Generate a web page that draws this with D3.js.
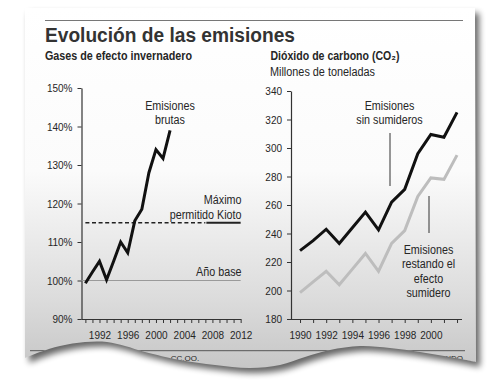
<!DOCTYPE html>
<html><head><meta charset="utf-8">
<script src="https://cdn.jsdelivr.net/npm/d3@7"></script>
<style>
body{margin:0;background:#fff}
svg text{font-family:"Liberation Sans",Arial,sans-serif;fill:#262626}
</style>
</head><body>
<svg id="c" width="500" height="385"></svg>
<script>
// ---------- data ----------
const grossYears = [1990,1991,1992,1993,1994,1995,1996,1997,1998,1999,2000,2001,2002];
const grossEmissions = [99.3,102.2,105,100.2,105,110,107.2,115.5,118.5,128,134,131.7,139];
const kyotoLimit = 115;
const baseYearLevel = 100;
const kyotoDashedYears = [1990,2007];
const kyotoSolidYears = [2007,2012];
const baseLineYears = [1989.45,2012];

const co2Years = [1990,1991,1992,1993,1994,1995,1996,1997,1998,1999,2000,2001,2002];
const co2WithoutSinks = [228,235,243,233,244,255,242.5,262,271,296,309.5,307.5,325];
const co2WithSinks = [198.5,206,213.5,204,215,226,213.5,233,242,266,279,278,295];

const leftYTicks = [90,100,110,120,130,140,150];
const leftXTicks = [1990,1991,1992,1993,1994,1995,1996,1997,1998,1999,2000,2001,2002,2003,2004,2005,2006,2007,2008,2009,2010,2011,2012];
const leftXLabels = [1992,1996,2000,2004,2008,2012];
const rightYTicks = [180,200,220,240,260,280,300,320,340];
const rightXTicks = [1990,1991,1992,1993,1994,1995,1996,1997,1998,1999,2000,2001,2002];
const rightXLabels = [1990,1992,1994,1996,1998,2000];

const title = "Evolución de las emisiones";

// condense text horizontally (Helvetica Condensed look)
function condense(sel, f){
  sel.each(function(){
    const w = this.getComputedTextLength();
    if (w > 0) d3.select(this).attr("textLength", w*f).attr("lengthAdjust","spacingAndGlyphs");
  });
}

// ---------- svg / paper ----------
const svg = d3.select("#c");
const defs = svg.append("defs");

const grad = defs.append("linearGradient").attr("id","paperGrad")
  .attr("gradientUnits","userSpaceOnUse").attr("x1",0).attr("y1",8).attr("x2",0).attr("y2",370);
[[0,"#ffffff"],[0.45,"#fbfbfb"],[0.62,"#ececec"],[0.8,"#dcdcdc"],[1,"#c6c6c6"]]
  .forEach(([o,c])=>grad.append("stop").attr("offset",o).attr("stop-color",c));

const shadow = defs.append("filter").attr("id","shadow").attr("x","-10%").attr("y","-10%").attr("width","130%").attr("height","130%");
shadow.append("feGaussianBlur").attr("stdDeviation",3);

const tear = [[476,362],[450,357],[420,352],[390,348],[360,346],[330,350],[305,357],[280,365],[250,368],[215,365],[180,360],[145,352],[125,346],[107,342],[85,342],[60,346],[40,352],[25,358]];
const tearPath = d3.line().curve(d3.curveCatmullRom)(tear);
const paperD = "M25,8L475,8L476,362" + tearPath.replace(/^M[^C]*?(?=C)/,"") + "Z";

svg.append("path").attr("d",paperD).attr("transform","translate(4,5)")
  .attr("fill","#000").attr("opacity",0.6).attr("filter","url(#shadow)");
svg.append("path").attr("d",paperD).attr("fill","url(#paperGrad)");

defs.append("clipPath").attr("id","paperClip").append("path").attr("d",paperD);
const page = svg.append("g").attr("clip-path","url(#paperClip)");

// header rule + title
page.append("line").attr("x1",45).attr("x2",463).attr("y1",20.5).attr("y2",20.5)
  .attr("stroke","#777").attr("stroke-width",1);
page.append("text").attr("x",45).attr("y",42).text(title)
  .style("font-weight","bold").style("font-size","20px").style("fill","#333")
  .attr("textLength",250).attr("lengthAdjust","spacingAndGlyphs");

page.append("text").attr("x",45).attr("y",60).text("Gases de efecto invernadero")
  .style("font-weight","bold").style("font-size","12.5px")
  .attr("textLength",147).attr("lengthAdjust","spacingAndGlyphs");
page.append("text").attr("x",270.5).attr("y",60).text("Dióxido de carbono (CO\u2082)")
  .style("font-weight","bold").style("font-size","12.5px")
  .attr("textLength",129).attr("lengthAdjust","spacingAndGlyphs");
page.append("text").attr("x",270).attr("y",75.5).text("Millones de toneladas").style("font-size","12.5px")
  .attr("textLength",105).attr("lengthAdjust","spacingAndGlyphs");

// bottom rule and credits (cut by tear)
page.append("line").attr("x1",30).attr("x2",465).attr("y1",350.7).attr("y2",350.7).attr("stroke","#555").attr("stroke-width",1);
page.append("text").attr("x",185).attr("y",361).text("CC.OO.").style("font-size","8px").attr("text-anchor","middle");
page.append("text").attr("x",463).attr("y",361).text("MUNDO").style("font-size","8px").attr("text-anchor","end");

// ---------- left chart ----------
const xL = d3.scaleLinear().domain([1989.45,2012.05]).range([81.5,241]);
const yL = d3.scaleLinear().domain([90,150]).range([319,88]);

const axStyle = g => {
  g.select(".domain").attr("stroke","#333").attr("stroke-width",1.2);
  g.selectAll(".tick line").attr("stroke","#333").attr("stroke-width",1);
  g.selectAll(".tick text").style("font-size","11.5px").style("fill","#262626")
    .style("font-family","'Liberation Sans',Arial,sans-serif").call(condense,0.87);
};

page.append("g").attr("transform","translate(0,319)")
  .call(d3.axisBottom(xL).tickValues(leftXTicks).tickSize(4).tickSizeOuter(0).tickPadding(8)
    .tickFormat(d=>leftXLabels.includes(d)?String(d):""))
  .call(axStyle)
  .call(g=>g.select(".domain").attr("d","M81.5,0.5H241"));
page.append("g").attr("transform","translate(81.5,0)")
  .call(d3.axisLeft(yL).tickValues(leftYTicks).tickSize(4).tickSizeOuter(0).tickPadding(5).tickFormat(d=>d+"%"))
  .call(axStyle);

// base year and Kyoto lines
page.append("line").attr("x1",xL(baseLineYears[0])).attr("x2",xL(baseLineYears[1]))
  .attr("y1",yL(baseYearLevel)).attr("y2",yL(baseYearLevel)).attr("stroke","#9a9a9a").attr("stroke-width",1);
page.append("line").attr("x1",xL(kyotoDashedYears[0])).attr("x2",xL(kyotoDashedYears[1]))
  .attr("y1",yL(kyotoLimit)).attr("y2",yL(kyotoLimit)).attr("stroke","#222").attr("stroke-width",1.6)
  .attr("stroke-dasharray","4,2.6");
page.append("line").attr("x1",xL(kyotoSolidYears[0])+1).attr("x2",xL(kyotoSolidYears[1]))
  .attr("y1",yL(kyotoLimit)).attr("y2",yL(kyotoLimit)).attr("stroke","#222").attr("stroke-width",1.8);

page.append("path").datum(grossYears.map((y,i)=>[y,grossEmissions[i]]))
  .attr("d",d3.line().x(d=>xL(d[0])).y(d=>yL(d[1])))
  .attr("fill","none").attr("stroke","#111").attr("stroke-width",3).attr("stroke-linejoin","miter");

const lbl = (x,y,t,anchor="middle") => page.append("text").attr("x",x).attr("y",y).text(t)
  .attr("text-anchor",anchor).style("font-size","12.5px").call(condense,0.86);
lbl(170,110,"Emisiones"); lbl(170,124,"brutas");
lbl(241.5,203.5,"Máximo","end"); lbl(241.5,218.5,"permitido Kioto","end");
lbl(241.5,275.5,"Año base","end");

// ---------- right chart ----------
const xR = d3.scaleLinear().domain([1989.31,2002.38]).range([291,462]);
const yR = d3.scaleLinear().domain([180,340]).range([319,91]);

page.append("g").attr("transform","translate(0,319)")
  .call(d3.axisBottom(xR).tickValues(rightXTicks).tickSize(4).tickSizeOuter(0).tickPadding(8)
    .tickFormat(d=>rightXLabels.includes(d)?String(d):""))
  .call(axStyle)
  .call(g=>g.select(".domain").attr("d","M291,0.5H462"));
page.append("g").attr("transform","translate(291,0)")
  .call(d3.axisLeft(yR).tickValues(rightYTicks).tickSize(4).tickSizeOuter(0).tickPadding(5))
  .call(axStyle);

const lineR = d3.line().x(d=>xR(d[0])).y(d=>yR(d[1]));
page.append("path").datum(co2Years.map((y,i)=>[y,co2WithSinks[i]]))
  .attr("d",lineR).attr("fill","none").attr("stroke","#bdbdbd").attr("stroke-width",3);
page.append("path").datum(co2Years.map((y,i)=>[y,co2WithoutSinks[i]]))
  .attr("d",lineR).attr("fill","none").attr("stroke","#111").attr("stroke-width",3);

page.append("line").attr("x1",390).attr("x2",390).attr("y1",133).attr("y2",186).attr("stroke","#333").attr("stroke-width",1);
page.append("line").attr("x1",429).attr("x2",429).attr("y1",196).attr("y2",233).attr("stroke","#333").attr("stroke-width",1);
lbl(389.5,109.5,"Emisiones"); lbl(389.5,124,"sin sumideros");
lbl(428.5,253.5,"Emisiones"); lbl(428.5,268,"restando el"); lbl(428.5,282.5,"efecto"); lbl(428.5,297,"sumidero");
</script>
</body></html>
